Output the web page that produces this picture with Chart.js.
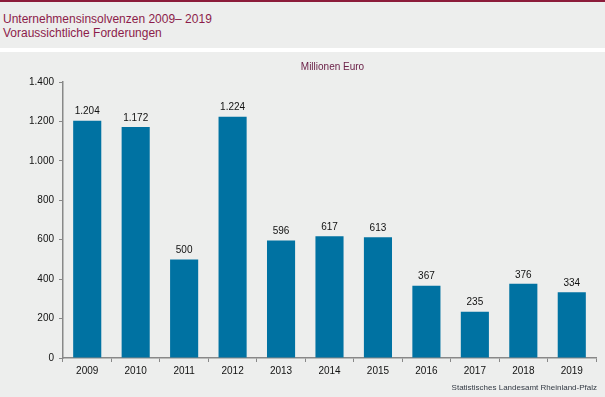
<!DOCTYPE html>
<html><head><meta charset="utf-8">
<script src="https://cdn.jsdelivr.net/npm/chart.js@4/dist/chart.umd.min.js"></script>
<style>
html,body{margin:0;padding:0;background:#fff;width:605px;height:397px;overflow:hidden;font-family:"Liberation Sans",Arial,sans-serif;}
#bar{position:absolute;left:0;top:0;width:605px;height:2px;background:#8c1c3a;}
#head{position:absolute;left:0;top:2px;width:605px;height:46px;background:#edeeed;}
#head div{position:absolute;left:3px;font-size:12px;color:#8c1c4a;white-space:nowrap;}
#panel{position:absolute;left:0;top:52px;width:605px;height:345px;background:#edeeed;}
#unit{position:absolute;left:0;top:9px;width:665px;text-align:center;font-size:10px;color:#6b2148;}
#src{position:absolute;right:8px;top:331px;font-size:8px;color:#333a44;}
canvas{position:absolute;left:0;top:0;}
</style></head>
<body>
<div id="bar"></div>
<div id="head"><div style="top:10px">Unternehmensinsolvenzen 2009– 2019</div><div style="top:24px">Voraussichtliche Forderungen</div></div>
<div id="panel">
<canvas id="c" width="605" height="345"></canvas>
<div id="unit">Millionen Euro</div>
<div id="src">Statistisches Landesamt Rheinland-Pfalz</div>
</div>
<script>
const categories = ["2009","2010","2011","2012","2013","2014","2015","2016","2017","2018","2019"];
const forderungen = [1204,1172,500,1224,596,617,613,367,235,376,334];
const yTicks = [0,200,400,600,800,1000,1200,1400];

const fmt = v => v.toLocaleString('de-DE');

const labelPlugin = {
  id:'vals',
  afterDatasetsDraw(chart){
    const ctx = chart.ctx;
    const meta = chart.getDatasetMeta(0);
    ctx.save();
    ctx.font = '10px "Liberation Sans", Arial, sans-serif';
    ctx.fillStyle = '#111';
    ctx.textAlign = 'center';
    ctx.textBaseline = 'bottom';
    meta.data.forEach((el,i)=>{
      ctx.fillText(fmt(forderungen[i]), el.x, el.y - 4);
    });
    ctx.restore();
  }
};

new Chart(document.getElementById('c'), {
  type:'bar',
  data:{labels:categories, datasets:[{data:forderungen, backgroundColor:'#0072a2', categoryPercentage:1, barPercentage:0.58}]},
  options:{
    responsive:false, animation:false,
    layout:{padding:{top:30,right:9,left:0,bottom:0}},
    plugins:{legend:{display:false}, tooltip:{enabled:false}},
    scales:{
      x:{
        grid:{display:true, drawOnChartArea:false, drawTicks:true, tickLength:4, color:'#888', offset:true},
        border:{display:true, color:'#888', width:1.5},
        ticks:{color:'#111', font:{size:10, family:'"Liberation Sans", Arial'}, padding:3, maxRotation:0},
        afterFit(s){ s.height = 39; }
      },
      y:{
        min:0, max:1400,
        afterBuildTicks(s){ s.ticks = yTicks.map(v=>({value:v})); },
        grid:{display:true, drawOnChartArea:false, drawTicks:true, tickLength:4, color:'#888'},
        border:{display:true, color:'#888', width:1.5},
        ticks:{color:'#111', font:{size:10, family:'"Liberation Sans", Arial'}, padding:5, callback:v=>fmt(v)},
        afterFit(s){ s.width = 63; }
      }
    }
  },
  plugins:[labelPlugin]
});
</script>
</body></html>
